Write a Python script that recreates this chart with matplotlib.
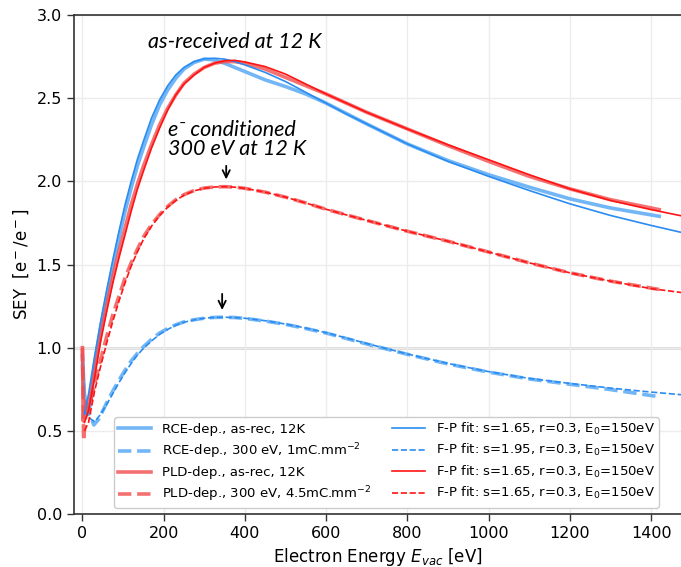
import matplotlib
matplotlib.use("Agg")
import matplotlib.pyplot as plt

# ---- data ----
# RCE-dep., as-received, 12 K
rce_asrec_E = [0, 5, 15, 22, 30, 45, 60, 75, 90, 105, 120, 135, 150, 170, 190, 210, 230, 250,
               275, 300, 325, 350, 375, 400, 425, 450, 475, 500, 550, 600, 700, 800, 900,
               1000, 1100, 1200, 1300, 1420]
rce_asrec_sey = [0.95, 0.72, 0.60, 0.70, 0.90, 1.12, 1.31, 1.49, 1.66, 1.82, 1.96, 2.09, 2.20,
                 2.34, 2.46, 2.55, 2.62, 2.675, 2.715, 2.735, 2.73, 2.71, 2.685, 2.66, 2.635,
                 2.61, 2.59, 2.57, 2.525, 2.47, 2.345, 2.225, 2.125, 2.04, 1.965, 1.895, 1.84,
                 1.79]
# RCE-dep., 300 eV, 1 mC/mm2
rce_cond_E = [0, 5, 15, 28, 40, 60, 75, 90, 105, 120, 135, 150, 170, 190, 210, 230, 250, 275,
              300, 325, 350, 375, 400, 450, 500, 550, 600, 700, 800, 900, 1000, 1100, 1200,
              1300, 1420]
rce_cond_sey = [0.90, 0.70, 0.62, 0.535, 0.57, 0.67, 0.74, 0.805, 0.865, 0.92, 0.965, 1.005,
                1.05, 1.088, 1.115, 1.138, 1.155, 1.168, 1.177, 1.182, 1.183, 1.181, 1.176,
                1.16, 1.14, 1.115, 1.088, 1.022, 0.96, 0.902, 0.853, 0.812, 0.78, 0.748, 0.705]
# PLD-dep., as-received, 12 K
pld_asrec_E = [0, 2, 6, 12, 20, 30, 45, 60, 75, 90, 105, 120, 135, 150, 170, 190, 210, 230,
               250, 275, 300, 325, 350, 375, 400, 450, 500, 550, 600, 700, 800, 900, 1000,
               1100, 1200, 1300, 1420]
pld_asrec_sey = [1.0, 0.56, 0.68, 0.62, 0.72, 0.87, 1.08, 1.26, 1.43, 1.58, 1.72, 1.86, 1.98,
                 2.09, 2.22, 2.34, 2.44, 2.52, 2.59, 2.645, 2.685, 2.71, 2.72, 2.72, 2.71,
                 2.675, 2.625, 2.575, 2.525, 2.415, 2.315, 2.215, 2.12, 2.03, 1.955, 1.89, 1.83]
# PLD-dep., 300 eV, 4.5 mC/mm2
pld_cond_E = [0, 3, 8, 15, 30, 45, 60, 75, 90, 105, 120, 135, 150, 170, 190, 210, 230, 250,
              275, 300, 325, 350, 375, 400, 450, 500, 550, 600, 700, 800, 900, 1000, 1100,
              1200, 1300, 1420]
pld_cond_sey = [1.0, 0.44, 0.60, 0.63, 0.78, 0.93, 1.07, 1.20, 1.31, 1.42, 1.51, 1.59, 1.665,
                1.74, 1.80, 1.85, 1.89, 1.92, 1.945, 1.96, 1.966, 1.968, 1.965, 1.958, 1.935,
                1.905, 1.87, 1.832, 1.765, 1.70, 1.64, 1.575, 1.51, 1.45, 1.40, 1.35]

# Furman-Pivi fit curves (sampled)
fit_E = [5, 15, 30, 45, 60, 75, 90, 105, 120, 135, 150, 170, 190, 210, 230, 250, 275, 300,
         325, 350, 375, 400, 450, 500, 550, 600, 650, 700, 800, 900, 1000, 1100, 1200, 1300,
         1400, 1480]
fit_rce_asrec = [0.60, 0.72, 0.95, 1.16, 1.35, 1.53, 1.70, 1.86, 2.00, 2.13, 2.24, 2.38, 2.49,
                 2.575, 2.64, 2.685, 2.72, 2.737, 2.74, 2.735, 2.72, 2.70, 2.655, 2.60, 2.535,
                 2.47, 2.405, 2.345, 2.225, 2.12, 2.03, 1.945, 1.865, 1.795, 1.735, 1.69]
fit_rce_cond = [0.62, 0.58, 0.555, 0.60, 0.66, 0.725, 0.79, 0.85, 0.905, 0.955, 0.995, 1.04,
                1.08, 1.11, 1.135, 1.153, 1.167, 1.177, 1.182, 1.183, 1.181, 1.177, 1.162,
                1.142, 1.118, 1.09, 1.058, 1.025, 0.962, 0.905, 0.856, 0.815, 0.785, 0.757,
                0.733, 0.716]
fit_pld_asrec = [0.55, 0.62, 0.82, 1.04, 1.22, 1.39, 1.54, 1.68, 1.82, 1.95, 2.06, 2.20, 2.32,
                 2.43, 2.52, 2.585, 2.64, 2.685, 2.71, 2.725, 2.727, 2.718, 2.69, 2.645, 2.585,
                 2.525, 2.47, 2.415, 2.315, 2.22, 2.13, 2.04, 1.955, 1.885, 1.83, 1.79]
fit_pld_cond = [0.50, 0.55, 0.74, 0.89, 1.03, 1.16, 1.28, 1.39, 1.49, 1.575, 1.65, 1.73, 1.795,
                1.845, 1.885, 1.917, 1.943, 1.958, 1.966, 1.968, 1.965, 1.958, 1.935, 1.905,
                1.87, 1.832, 1.798, 1.765, 1.70, 1.64, 1.575, 1.51, 1.45, 1.40, 1.355, 1.33]

xticks = [0, 200, 400, 600, 800, 1000, 1200, 1400]
yticks = [0.0, 0.5, 1.0, 1.5, 2.0, 2.5, 3.0]

LBLUE = "#5aaaf5"
LRED = "#f24e4e"
BLUE = "#2a8cf0"
RED = "#ff1414"

fig = plt.figure(figsize=(6.81, 5.67), dpi=100)
ax = fig.add_axes([0.1087, 0.0935, 0.8913, 0.880])

ax.grid(True, color="#ececec", lw=1.0, zorder=0)
ax.axhline(1.0, color="#d8d8d8", lw=2.0, zorder=1)

ax.plot(rce_asrec_E, rce_asrec_sey, color=LBLUE, lw=2.6, alpha=0.85,
        label="RCE-dep., as-rec, 12K", zorder=3)
ax.plot(rce_cond_E, rce_cond_sey, color=LBLUE, lw=2.6, ls="--", alpha=0.85,
        label="RCE-dep., 300 eV, 1mC.mm$^{-2}$", zorder=3)
ax.plot(pld_asrec_E, pld_asrec_sey, color=LRED, lw=2.6, alpha=0.8,
        label="PLD-dep., as-rec, 12K", zorder=3)
ax.plot(pld_cond_E, pld_cond_sey, color=LRED, lw=2.6, ls="--", alpha=0.8,
        label="PLD-dep., 300 eV, 4.5mC.mm$^{-2}$", zorder=3)

ax.plot(fit_E, fit_rce_asrec, color=BLUE, lw=1.2,
        label="F-P fit: s=1.65, r=0.3, E$_0$=150eV", zorder=4)
ax.plot(fit_E, fit_rce_cond, color=BLUE, lw=1.2, ls="--",
        label="F-P fit: s=1.95, r=0.3, E$_0$=150eV", zorder=4)
ax.plot(fit_E, fit_pld_asrec, color=RED, lw=1.2,
        label="F-P fit: s=1.65, r=0.3, E$_0$=150eV", zorder=4)
ax.plot(fit_E, fit_pld_cond, color=RED, lw=1.2, ls="--",
        label="F-P fit: s=1.65, r=0.3, E$_0$=150eV", zorder=4)

ax.set_xlim(-20.7, 1473.7)
ax.set_ylim(0, 3.0)
ax.set_xticks(xticks)
ax.set_yticks(yticks)
ax.set_yticklabels([f"{v:.1f}" for v in yticks])
ax.tick_params(labelsize=11.5, length=5, width=1.0, color="#333333", direction="out")
for side in ["left", "bottom", "top"]:
    ax.spines[side].set_color("#333333")
    ax.spines[side].set_linewidth(1.2)
ax.spines["right"].set_visible(False)

ax.set_xlabel("Electron Energy $E_{vac}$ [eV]", fontsize=12)
ax.set_ylabel("SEY  [e$^-$/e$^-$]", fontsize=12)

tfont = dict(family=["Lato", "DejaVu Sans"], style="italic", fontsize=15.5)
ax.text(162, 2.84, "as-received at 12 K", ha="left", va="center", **tfont)
ax.text(211, 2.31, "e\u207b conditioned", ha="left", va="center", **tfont)
ax.text(211, 2.195, "300 eV at 12 K", ha="left", va="center", **tfont)

arrow = dict(arrowstyle="->", color="black", lw=1.3, mutation_scale=13)
ax.annotate("", xy=(354, 1.995), xytext=(354, 2.11), arrowprops=arrow)
ax.annotate("", xy=(344, 1.21), xytext=(344, 1.34), arrowprops=arrow)

leg = ax.legend(ncol=2, loc="lower left", bbox_to_anchor=(0.066, 0.012), borderaxespad=0,
                fontsize=9.5, frameon=True, framealpha=1.0, edgecolor="#cccccc",
                columnspacing=1.6, handlelength=2.5, labelspacing=0.4, borderpad=0.3)

fig.savefig("out.png", dpi=100)
